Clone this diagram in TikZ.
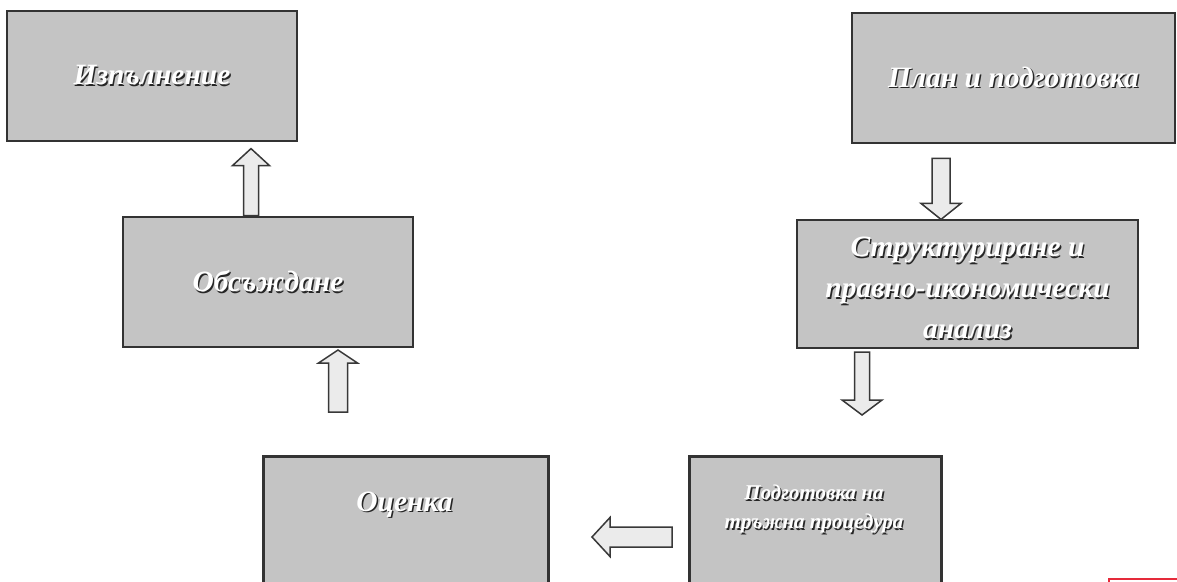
\documentclass[tikz,border=0pt]{standalone}
\usepackage{fontspec}
\setmainfont{Liberation Serif}
\definecolor{markred}{HTML}{E52A3A}
\newcommand{\emb}[1]{\leavevmode\rlap{\kern1.4pt\raisebox{-1.4pt}{\textcolor{black!85}{#1}}}#1}
\tikzset{
  box/.style={draw=black!80, line width=2.8pt, fill=black!23, inner sep=0pt,
    font=\fontsize{29.5}{41}\selectfont\bfseries\itshape, text=white, align=center},
  boxtext/.style={font=\fontsize{29.5}{41}\selectfont\bfseries\itshape, text=white, align=center, inner sep=0pt},
  smalltext/.style={boxtext, font=\fontsize{21}{29}\selectfont\bfseries\itshape},
  arrowshape/.style={draw=black!78, fill=black!8, line width=1.5pt, line join=miter},
  pics/fatarrow/.style n args={4}{code={
    \draw[arrowshape] (0,-#2) -- ({#1-#4},-#2) -- ({#1-#4},-#3) -- (#1,0)
      -- ({#1-#4},#3) -- ({#1-#4},#2) -- (0,#2) -- cycle;}},
  redmark/.style={draw=markred, line width=2.5pt}
}
\begin{document}
\begin{tikzpicture}[x=1pt,y=1pt]
\useasboundingbox (0,0) rectangle (1177,-581);
\clip (0,0) rectangle (1177,-581);
\fill[white] (0,0) rectangle (1177,-581);

% boxes
\node[box, minimum width=290, minimum height=130] (ispal) at (152,-76) {\emb{Изпълнение}};
\node[box, minimum width=323, minimum height=130] (plan) at (1013.5,-78) {\emb{План и подготовка}};
\node[box, minimum width=290, minimum height=130] (obs) at (268,-282) {\emb{Обсъждане}};
\node[box, minimum width=341, minimum height=128] (struct) at (967.5,-284) {};
\node[boxtext] (structtext) at (967.5,-289)
  {\emb{Структуриране и}\\\emb{правно-икономически}\\\emb{анализ}};
\node[box, anchor=north west, minimum width=285, minimum height=170] (ocenka) at (262,-455) {};
\node[box, anchor=north west, minimum width=252, minimum height=170] (podg) at (688,-455) {};
\node[boxtext] (ocenkatext) at (404.5,-505) {\emb{Оценка}};
\node[smalltext] (podgtext) at (814,-510) {\emb{Подготовка на}\\\emb{тръжна процедура}};

% block arrows
\pic[rotate=90] at ([xshift=-17pt]obs.north) {fatarrow={67}{7.5}{18.5}{17}};
\pic[rotate=90] at (338,-412) {fatarrow={62}{9.5}{19.5}{13}};
\pic[rotate=-90] at ([yshift=-14pt]plan.south -| 941,0) {fatarrow={61}{9}{20}{16}};
\pic[rotate=-90] at (862,-352) {fatarrow={63}{7.5}{20}{15}};
\pic[rotate=180] at ([xshift=-16pt]podg.west |- 0,-537) {fatarrow={80}{10}{19.5}{18}};

% red mark at the lower right corner
\draw[redmark] (1109,-595) -- (1109,-579) -- (1185,-579);
\end{tikzpicture}
\end{document}
